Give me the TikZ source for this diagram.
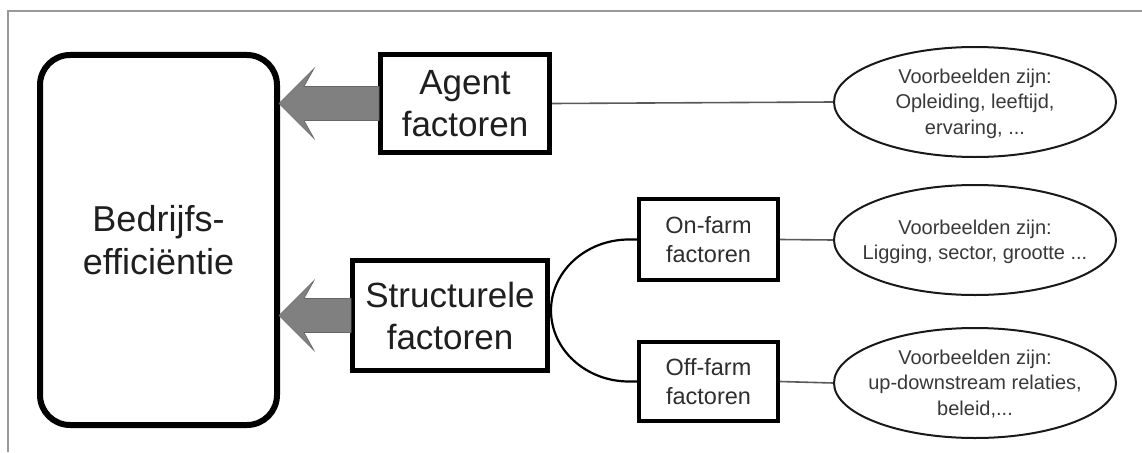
\documentclass[tikz,border=0pt]{standalone}
\usepackage{fontspec}
\setmainfont{Liberation Sans}
\usetikzlibrary{calc,shapes.geometric}

% gray block arrow from the west side of a box to the east side of another
\newcommand\fatarrow[2]{%
  \path[fatarrowstyle] let \p1=(#1.west), \p2=(#2.east) in
    (\x1+1,\y1-17) -- (\x2+24,\y1-17) -- (\x2+34,\y1-35) -- (\x2-1,\y1)
    -- (\x2+34,\y1+35) -- (\x2+24,\y1+17) -- (\x1+1,\y1+17) -- cycle;}

% text that takes no room, so every ellipse keeps the same size
\newcommand\freetext[1]{\raisebox{-0.35em}[0pt][0pt]{\makebox[0pt]{%
  \begin{tabular}{@{}c@{}}#1\end{tabular}}}}

\begin{document}
\begin{tikzpicture}[x=1pt,y=-1pt,
  frameline/.style={draw=black!40,line width=1.3pt},
  mainbox/.style={draw=black,line width=6pt,rounded corners=30pt,
    minimum width=237pt,minimum height=370pt,align=center,
    font=\fontsize{36}{43}\selectfont,text=black!88},
  bigbox/.style={draw=black,line width=5pt,align=center,inner sep=0pt,
    font=\fontsize{35}{42}\selectfont,text=black!88},
  smallbox/.style={draw=black,line width=4pt,align=center,inner sep=0pt,
    minimum width=139pt,font=\fontsize{23.5}{28.5}\selectfont,text=black!82},
  example/.style={draw=black!90,line width=2pt,ellipse,inner sep=0pt,
    minimum width=282pt,minimum height=110pt,
    font=\fontsize{20}{25.5}\selectfont,text=black!78},
  thinlink/.style={draw=black!65,line width=1.6pt},
  branch/.style={draw=black,line width=2.2pt},
  fatarrowstyle/.style={fill=black!50,draw=black!60,line width=0.6pt}]

\useasboundingbox (0,0) rectangle (1142,452);

% page frame, top and left edges
\draw[frameline] (8,452) -- (8,11) -- (1142,11);

% boxes
\node[mainbox] (main) at (158.5,240) {Bedrijfs-\\efficiëntie};
\node[bigbox,minimum width=169pt,minimum height=98pt] (agent) at (465,103.5) {Agent\\factoren};
\node[bigbox,minimum width=195pt,minimum height=110pt] (struct) at (450,315.5) {Structurele\\factoren};
\node[smallbox,minimum height=81pt] (onfarm) at (708.5,239.5) {On-farm\\factoren};
\node[smallbox,minimum height=79pt] (offfarm) at (708.5,381.5) {Off-farm\\factoren};

% examples
\node[example] (exagent) at (975,102) {\freetext{Voorbeelden zijn:\\Opleiding, leeftijd,\\ervaring, ...}};
\node[example] (exon) at (975,240) {\freetext{Voorbeelden zijn:\\Ligging, sector, grootte ...}};
\node[example] (exoff) at (975,383) {\freetext{Voorbeelden zijn:\\up-downstream relaties,\\beleid,...}};

% block arrows into the main box
\fatarrow{agent}{main}
\fatarrow{struct}{main}

% split of the structural factors
\draw[branch] (onfarm.west) -- ++(-8,0)
  arc[start angle=90,end angle=270,x radius=78pt,y radius=71pt]
  -- (offfarm.west);

% links to the examples
\draw[thinlink] (agent.east) -- (exagent.west);
\draw[thinlink] (onfarm.east) -- (exon.west);
\draw[thinlink] (offfarm.east) -- (exoff.west);

\end{tikzpicture}
\end{document}
